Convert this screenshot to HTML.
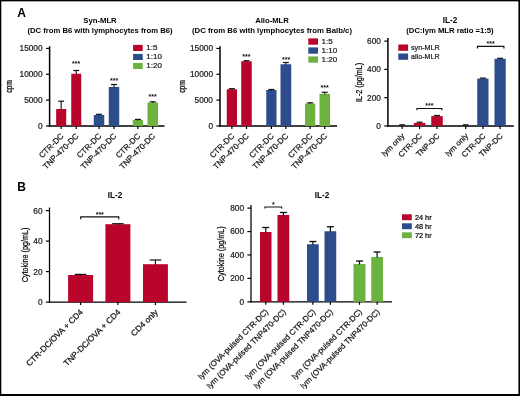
<!DOCTYPE html>
<html><head><meta charset="utf-8"><title>Figure</title>
<style>html,body{margin:0;padding:0;background:#fff}svg{display:block;will-change:transform}text{white-space:pre}</style>
</head><body>
<svg width="520" height="396" viewBox="0 0 520 396" font-family='"Liberation Sans", Arial, Helvetica, sans-serif'>
<rect x="0" y="0" width="520" height="396" fill="#fff"/>
<text x="17.20" y="16.50" font-size="12" text-anchor="start" font-weight="bold" fill="#000">A</text>
<text x="17.20" y="191.00" font-size="12" text-anchor="start" font-weight="bold" fill="#000">B</text>
<text x="100.00" y="22.60" font-size="7.7" text-anchor="middle" font-weight="bold" fill="#000">Syn-MLR</text>
<text x="100.00" y="33.20" font-size="7.7" text-anchor="middle" font-weight="bold" fill="#000">(DC from B6 with lymphocytes from B6)</text>
<line x1="49.60" y1="46.20" x2="49.60" y2="126.75" stroke="#000" stroke-width="1.5"/>
<line x1="46.00" y1="48.45" x2="49.60" y2="48.45" stroke="#000" stroke-width="1.2"/>
<text x="42.60" y="51.35" font-size="8.3" text-anchor="end" stroke="#1a1a1a" stroke-width="0.22" fill="#1a1a1a">15000</text>
<line x1="46.00" y1="74.30" x2="49.60" y2="74.30" stroke="#000" stroke-width="1.2"/>
<text x="42.60" y="77.20" font-size="8.3" text-anchor="end" stroke="#1a1a1a" stroke-width="0.22" fill="#1a1a1a">10000</text>
<line x1="46.00" y1="100.15" x2="49.60" y2="100.15" stroke="#000" stroke-width="1.2"/>
<text x="42.60" y="103.05" font-size="8.3" text-anchor="end" stroke="#1a1a1a" stroke-width="0.22" fill="#1a1a1a">5000</text>
<line x1="46.00" y1="126.00" x2="49.60" y2="126.00" stroke="#000" stroke-width="1.2"/>
<text x="42.60" y="128.90" font-size="8.3" text-anchor="end" stroke="#1a1a1a" stroke-width="0.22" fill="#1a1a1a">0</text>
<line x1="48.85" y1="126.00" x2="164.50" y2="126.00" stroke="#000" stroke-width="1.5"/>
<text transform="translate(12.20 86.40) rotate(-90) scale(0.82 1)" font-size="8.3" text-anchor="middle" stroke="#000" stroke-width="0.22" fill="#000">cpm</text>
<rect x="56.15" y="109.00" width="10.05" height="17.00" fill="#b9052c"/>
<line x1="61.17" y1="109.50" x2="61.17" y2="101.20" stroke="#111" stroke-width="1.1"/>
<line x1="58.17" y1="101.20" x2="64.17" y2="101.20" stroke="#111" stroke-width="1.2000000000000002"/>
<line x1="61.17" y1="126.00" x2="61.17" y2="129.00" stroke="#000" stroke-width="1.2"/>
<text transform="translate(64.17 136.60) rotate(-45)" font-size="8.1" text-anchor="end" stroke="#111" stroke-width="0.22" fill="#111">CTR-DC</text>
<rect x="71.25" y="73.75" width="10.00" height="52.25" fill="#b9052c"/>
<line x1="76.25" y1="74.25" x2="76.25" y2="70.50" stroke="#111" stroke-width="1.1"/>
<line x1="73.25" y1="70.50" x2="79.25" y2="70.50" stroke="#111" stroke-width="1.2000000000000002"/>
<line x1="76.25" y1="126.00" x2="76.25" y2="129.00" stroke="#000" stroke-width="1.2"/>
<text transform="translate(79.25 136.60) rotate(-45)" font-size="8.1" text-anchor="end" stroke="#111" stroke-width="0.22" fill="#111">TNP-470-DC</text>
<rect x="93.75" y="115.00" width="10.50" height="11.00" fill="#2c4c8c"/>
<line x1="99.00" y1="115.50" x2="99.00" y2="114.30" stroke="#111" stroke-width="1.1"/>
<line x1="96.00" y1="114.30" x2="102.00" y2="114.30" stroke="#111" stroke-width="1.2000000000000002"/>
<line x1="99.00" y1="126.00" x2="99.00" y2="129.00" stroke="#000" stroke-width="1.2"/>
<text transform="translate(102.00 136.60) rotate(-45)" font-size="8.1" text-anchor="end" stroke="#111" stroke-width="0.22" fill="#111">CTR-DC</text>
<rect x="108.75" y="87.00" width="10.50" height="39.00" fill="#2c4c8c"/>
<line x1="114.00" y1="87.50" x2="114.00" y2="84.50" stroke="#111" stroke-width="1.1"/>
<line x1="111.00" y1="84.50" x2="117.00" y2="84.50" stroke="#111" stroke-width="1.2000000000000002"/>
<line x1="114.00" y1="126.00" x2="114.00" y2="129.00" stroke="#000" stroke-width="1.2"/>
<text transform="translate(117.00 136.60) rotate(-45)" font-size="8.1" text-anchor="end" stroke="#111" stroke-width="0.22" fill="#111">TNP-470-DC</text>
<rect x="132.75" y="120.00" width="10.25" height="6.00" fill="#6cb23f"/>
<line x1="137.88" y1="120.50" x2="137.88" y2="119.40" stroke="#111" stroke-width="1.1"/>
<line x1="134.88" y1="119.40" x2="140.88" y2="119.40" stroke="#111" stroke-width="1.2000000000000002"/>
<line x1="137.88" y1="126.00" x2="137.88" y2="129.00" stroke="#000" stroke-width="1.2"/>
<text transform="translate(140.88 136.60) rotate(-45)" font-size="8.1" text-anchor="end" stroke="#111" stroke-width="0.22" fill="#111">CTR-DC</text>
<rect x="147.50" y="102.50" width="10.50" height="23.50" fill="#6cb23f"/>
<line x1="152.75" y1="103.00" x2="152.75" y2="101.80" stroke="#111" stroke-width="1.1"/>
<line x1="149.75" y1="101.80" x2="155.75" y2="101.80" stroke="#111" stroke-width="1.2000000000000002"/>
<line x1="152.75" y1="126.00" x2="152.75" y2="129.00" stroke="#000" stroke-width="1.2"/>
<text transform="translate(155.75 136.60) rotate(-45)" font-size="8.1" text-anchor="end" stroke="#111" stroke-width="0.22" fill="#111">TNP-470-DC</text>
<text x="76.20" y="66.20" font-size="7" text-anchor="middle" font-weight="bold" fill="#111">***</text>
<text x="114.20" y="83.30" font-size="7" text-anchor="middle" font-weight="bold" fill="#111">***</text>
<text x="152.60" y="99.30" font-size="7" text-anchor="middle" font-weight="bold" fill="#111">***</text>
<rect x="133.10" y="44.90" width="9.60" height="6.10" fill="#b9052c"/>
<text x="146.30" y="50.30" font-size="8" text-anchor="start" stroke="#1a1a1a" stroke-width="0.22" fill="#1a1a1a">1:5</text>
<rect x="133.10" y="53.90" width="9.60" height="6.10" fill="#2c4c8c"/>
<text x="146.30" y="59.30" font-size="8" text-anchor="start" stroke="#1a1a1a" stroke-width="0.22" fill="#1a1a1a">1:10</text>
<rect x="133.10" y="62.90" width="9.60" height="6.10" fill="#6cb23f"/>
<text x="146.30" y="68.30" font-size="8" text-anchor="start" stroke="#1a1a1a" stroke-width="0.22" fill="#1a1a1a">1:20</text>
<text x="272.00" y="22.60" font-size="7.7" text-anchor="middle" font-weight="bold" fill="#000">Allo-MLR</text>
<text x="272.00" y="33.20" font-size="7.7" text-anchor="middle" font-weight="bold" textLength="160" lengthAdjust="spacingAndGlyphs" fill="#000">(DC from B6 with lymphocytes from Balb/c)</text>
<line x1="220.00" y1="46.20" x2="220.00" y2="126.75" stroke="#000" stroke-width="1.5"/>
<line x1="216.40" y1="48.45" x2="220.00" y2="48.45" stroke="#000" stroke-width="1.2"/>
<text x="213.00" y="51.35" font-size="8.3" text-anchor="end" stroke="#1a1a1a" stroke-width="0.22" fill="#1a1a1a">15000</text>
<line x1="216.40" y1="74.30" x2="220.00" y2="74.30" stroke="#000" stroke-width="1.2"/>
<text x="213.00" y="77.20" font-size="8.3" text-anchor="end" stroke="#1a1a1a" stroke-width="0.22" fill="#1a1a1a">10000</text>
<line x1="216.40" y1="100.15" x2="220.00" y2="100.15" stroke="#000" stroke-width="1.2"/>
<text x="213.00" y="103.05" font-size="8.3" text-anchor="end" stroke="#1a1a1a" stroke-width="0.22" fill="#1a1a1a">5000</text>
<line x1="216.40" y1="126.00" x2="220.00" y2="126.00" stroke="#000" stroke-width="1.2"/>
<text x="213.00" y="128.90" font-size="8.3" text-anchor="end" stroke="#1a1a1a" stroke-width="0.22" fill="#1a1a1a">0</text>
<line x1="219.25" y1="126.00" x2="337.00" y2="126.00" stroke="#000" stroke-width="1.5"/>
<text transform="translate(184.60 86.40) rotate(-90) scale(0.82 1)" font-size="8.3" text-anchor="middle" stroke="#000" stroke-width="0.22" fill="#000">cpm</text>
<rect x="226.75" y="89.25" width="10.25" height="36.75" fill="#b9052c"/>
<line x1="231.88" y1="89.75" x2="231.88" y2="88.70" stroke="#111" stroke-width="1.1"/>
<line x1="228.88" y1="88.70" x2="234.88" y2="88.70" stroke="#111" stroke-width="1.2000000000000002"/>
<line x1="231.88" y1="126.00" x2="231.88" y2="129.00" stroke="#000" stroke-width="1.2"/>
<text transform="translate(234.88 136.60) rotate(-45)" font-size="8.1" text-anchor="end" stroke="#111" stroke-width="0.22" fill="#111">CTR-DC</text>
<rect x="241.25" y="61.25" width="10.50" height="64.75" fill="#b9052c"/>
<line x1="246.50" y1="61.75" x2="246.50" y2="60.70" stroke="#111" stroke-width="1.1"/>
<line x1="243.50" y1="60.70" x2="249.50" y2="60.70" stroke="#111" stroke-width="1.2000000000000002"/>
<line x1="246.50" y1="126.00" x2="246.50" y2="129.00" stroke="#000" stroke-width="1.2"/>
<text transform="translate(249.50 136.60) rotate(-45)" font-size="8.1" text-anchor="end" stroke="#111" stroke-width="0.22" fill="#111">TNP-470-DC</text>
<rect x="266.25" y="90.00" width="10.25" height="36.00" fill="#2c4c8c"/>
<line x1="271.38" y1="90.50" x2="271.38" y2="89.50" stroke="#111" stroke-width="1.1"/>
<line x1="268.38" y1="89.50" x2="274.38" y2="89.50" stroke="#111" stroke-width="1.2000000000000002"/>
<line x1="271.38" y1="126.00" x2="271.38" y2="129.00" stroke="#000" stroke-width="1.2"/>
<text transform="translate(274.38 136.60) rotate(-45)" font-size="8.1" text-anchor="end" stroke="#111" stroke-width="0.22" fill="#111">CTR-DC</text>
<rect x="280.50" y="64.25" width="10.75" height="61.75" fill="#2c4c8c"/>
<line x1="285.88" y1="64.75" x2="285.88" y2="62.50" stroke="#111" stroke-width="1.1"/>
<line x1="282.88" y1="62.50" x2="288.88" y2="62.50" stroke="#111" stroke-width="1.2000000000000002"/>
<line x1="285.88" y1="126.00" x2="285.88" y2="129.00" stroke="#000" stroke-width="1.2"/>
<text transform="translate(288.88 136.60) rotate(-45)" font-size="8.1" text-anchor="end" stroke="#111" stroke-width="0.22" fill="#111">TNP-470-DC</text>
<rect x="305.00" y="103.50" width="10.25" height="22.50" fill="#6cb23f"/>
<line x1="310.12" y1="104.00" x2="310.12" y2="102.80" stroke="#111" stroke-width="1.1"/>
<line x1="307.12" y1="102.80" x2="313.12" y2="102.80" stroke="#111" stroke-width="1.2000000000000002"/>
<line x1="310.12" y1="126.00" x2="310.12" y2="129.00" stroke="#000" stroke-width="1.2"/>
<text transform="translate(313.12 136.60) rotate(-45)" font-size="8.1" text-anchor="end" stroke="#111" stroke-width="0.22" fill="#111">CTR-DC</text>
<rect x="319.50" y="93.90" width="10.50" height="32.10" fill="#6cb23f"/>
<line x1="324.75" y1="94.40" x2="324.75" y2="92.30" stroke="#111" stroke-width="1.1"/>
<line x1="321.75" y1="92.30" x2="327.75" y2="92.30" stroke="#111" stroke-width="1.2000000000000002"/>
<line x1="324.75" y1="126.00" x2="324.75" y2="129.00" stroke="#000" stroke-width="1.2"/>
<text transform="translate(327.75 136.60) rotate(-45)" font-size="8.1" text-anchor="end" stroke="#111" stroke-width="0.22" fill="#111">TNP-470-DC</text>
<text x="246.40" y="58.60" font-size="7" text-anchor="middle" font-weight="bold" fill="#111">***</text>
<text x="286.10" y="62.00" font-size="7" text-anchor="middle" font-weight="bold" fill="#111">***</text>
<text x="324.60" y="90.00" font-size="7" text-anchor="middle" font-weight="bold" fill="#111">***</text>
<rect x="308.30" y="38.40" width="9.70" height="6.30" fill="#b9052c"/>
<text x="321.60" y="44.20" font-size="8" text-anchor="start" stroke="#1a1a1a" stroke-width="0.22" fill="#1a1a1a">1:5</text>
<rect x="308.30" y="47.40" width="9.70" height="6.30" fill="#2c4c8c"/>
<text x="321.60" y="53.20" font-size="8" text-anchor="start" stroke="#1a1a1a" stroke-width="0.22" fill="#1a1a1a">1:10</text>
<rect x="308.30" y="56.40" width="9.70" height="6.30" fill="#6cb23f"/>
<text x="321.60" y="62.20" font-size="8" text-anchor="start" stroke="#1a1a1a" stroke-width="0.22" fill="#1a1a1a">1:20</text>
<text x="450.00" y="22.60" font-size="8.2" text-anchor="middle" font-weight="bold" fill="#000">IL-2</text>
<text x="450.00" y="32.60" font-size="7.7" text-anchor="middle" font-weight="bold" fill="#000">(DC:lym MLR ratio =1:5)</text>
<line x1="387.90" y1="38.10" x2="387.90" y2="126.65" stroke="#000" stroke-width="1.5"/>
<line x1="384.30" y1="41.15" x2="387.90" y2="41.15" stroke="#000" stroke-width="1.2"/>
<text x="380.90" y="44.05" font-size="8.3" text-anchor="end" stroke="#1a1a1a" stroke-width="0.22" fill="#1a1a1a">600</text>
<line x1="384.30" y1="69.40" x2="387.90" y2="69.40" stroke="#000" stroke-width="1.2"/>
<text x="380.90" y="72.30" font-size="8.3" text-anchor="end" stroke="#1a1a1a" stroke-width="0.22" fill="#1a1a1a">400</text>
<line x1="384.30" y1="97.65" x2="387.90" y2="97.65" stroke="#000" stroke-width="1.2"/>
<text x="380.90" y="100.55" font-size="8.3" text-anchor="end" stroke="#1a1a1a" stroke-width="0.22" fill="#1a1a1a">200</text>
<line x1="384.30" y1="125.90" x2="387.90" y2="125.90" stroke="#000" stroke-width="1.2"/>
<text x="380.90" y="128.80" font-size="8.3" text-anchor="end" stroke="#1a1a1a" stroke-width="0.22" fill="#1a1a1a">0</text>
<line x1="387.15" y1="125.90" x2="513.80" y2="125.90" stroke="#000" stroke-width="1.5"/>
<text transform="translate(361.60 82.50) rotate(-90) scale(0.8 1)" font-size="9" text-anchor="middle" stroke="#000" stroke-width="0.22" fill="#000">IL-2 (pg/mL)</text>
<line x1="399.30" y1="124.90" x2="404.90" y2="124.90" stroke="#111" stroke-width="1.4"/>
<line x1="402.10" y1="125.90" x2="402.10" y2="128.90" stroke="#000" stroke-width="1.2"/>
<text transform="translate(405.10 136.50) rotate(-45)" font-size="7.8" text-anchor="end" stroke="#111" stroke-width="0.22" fill="#111">lym only</text>
<rect x="413.80" y="122.90" width="11.60" height="3.00" fill="#b9052c"/>
<line x1="419.60" y1="123.40" x2="419.60" y2="122.20" stroke="#111" stroke-width="1.1"/>
<line x1="416.60" y1="122.20" x2="422.60" y2="122.20" stroke="#111" stroke-width="1.2000000000000002"/>
<line x1="419.60" y1="125.90" x2="419.60" y2="128.90" stroke="#000" stroke-width="1.2"/>
<text transform="translate(422.60 136.50) rotate(-45)" font-size="7.8" text-anchor="end" stroke="#111" stroke-width="0.22" fill="#111">CTR-DC</text>
<rect x="431.25" y="116.10" width="11.50" height="9.80" fill="#b9052c"/>
<line x1="437.00" y1="116.60" x2="437.00" y2="115.50" stroke="#111" stroke-width="1.1"/>
<line x1="434.00" y1="115.50" x2="440.00" y2="115.50" stroke="#111" stroke-width="1.2000000000000002"/>
<line x1="437.00" y1="125.90" x2="437.00" y2="128.90" stroke="#000" stroke-width="1.2"/>
<text transform="translate(440.00 136.50) rotate(-45)" font-size="7.8" text-anchor="end" stroke="#111" stroke-width="0.22" fill="#111">TNP-DC</text>
<line x1="462.90" y1="124.90" x2="468.50" y2="124.90" stroke="#111" stroke-width="1.4"/>
<line x1="465.70" y1="125.90" x2="465.70" y2="128.90" stroke="#000" stroke-width="1.2"/>
<text transform="translate(468.70 136.50) rotate(-45)" font-size="7.8" text-anchor="end" stroke="#111" stroke-width="0.22" fill="#111">lym only</text>
<rect x="477.25" y="78.60" width="11.25" height="47.30" fill="#2c4c8c"/>
<line x1="482.88" y1="79.10" x2="482.88" y2="78.10" stroke="#111" stroke-width="1.1"/>
<line x1="479.88" y1="78.10" x2="485.88" y2="78.10" stroke="#111" stroke-width="1.2000000000000002"/>
<line x1="482.88" y1="125.90" x2="482.88" y2="128.90" stroke="#000" stroke-width="1.2"/>
<text transform="translate(485.88 136.50) rotate(-45)" font-size="7.8" text-anchor="end" stroke="#111" stroke-width="0.22" fill="#111">CTR-DC</text>
<rect x="494.50" y="58.80" width="11.25" height="67.10" fill="#2c4c8c"/>
<line x1="500.12" y1="59.30" x2="500.12" y2="58.30" stroke="#111" stroke-width="1.1"/>
<line x1="497.12" y1="58.30" x2="503.12" y2="58.30" stroke="#111" stroke-width="1.2000000000000002"/>
<line x1="500.12" y1="125.90" x2="500.12" y2="128.90" stroke="#000" stroke-width="1.2"/>
<text transform="translate(503.12 136.50) rotate(-45)" font-size="7.8" text-anchor="end" stroke="#111" stroke-width="0.22" fill="#111">TNP-DC</text>
<path d="M417.00 110.30V108.50H441.80V110.30" fill="none" stroke="#111" stroke-width="1.2"/>
<text x="429.40" y="107.60" font-size="7" text-anchor="middle" font-weight="bold" fill="#111">***</text>
<path d="M477.50 48.40V46.40H503.90V48.40" fill="none" stroke="#111" stroke-width="1.2"/>
<text x="490.70" y="45.90" font-size="7" text-anchor="middle" font-weight="bold" fill="#111">***</text>
<rect x="398.30" y="44.50" width="9.80" height="6.30" fill="#b9052c"/>
<text x="411.00" y="49.80" font-size="8" text-anchor="start" stroke="#1a1a1a" stroke-width="0.22" textLength="28.8" lengthAdjust="spacingAndGlyphs" fill="#1a1a1a">syn-MLR</text>
<rect x="398.30" y="53.50" width="9.80" height="6.30" fill="#2c4c8c"/>
<text x="411.00" y="58.70" font-size="8" text-anchor="start" stroke="#1a1a1a" stroke-width="0.22" textLength="28.8" lengthAdjust="spacingAndGlyphs" fill="#1a1a1a">allo-MLR</text>
<text x="115.00" y="198.40" font-size="8.2" text-anchor="middle" font-weight="bold" fill="#000">IL-2</text>
<line x1="49.50" y1="207.50" x2="49.50" y2="302.73" stroke="#000" stroke-width="1.25"/>
<line x1="45.90" y1="210.60" x2="49.50" y2="210.60" stroke="#000" stroke-width="1.2"/>
<text x="42.50" y="213.50" font-size="8.3" text-anchor="end" stroke="#1a1a1a" stroke-width="0.22" fill="#1a1a1a">60</text>
<line x1="45.90" y1="241.10" x2="49.50" y2="241.10" stroke="#000" stroke-width="1.2"/>
<text x="42.50" y="244.00" font-size="8.3" text-anchor="end" stroke="#1a1a1a" stroke-width="0.22" fill="#1a1a1a">40</text>
<line x1="45.90" y1="271.60" x2="49.50" y2="271.60" stroke="#000" stroke-width="1.2"/>
<text x="42.50" y="274.50" font-size="8.3" text-anchor="end" stroke="#1a1a1a" stroke-width="0.22" fill="#1a1a1a">20</text>
<line x1="45.90" y1="302.10" x2="49.50" y2="302.10" stroke="#000" stroke-width="1.2"/>
<text x="42.50" y="305.00" font-size="8.3" text-anchor="end" stroke="#1a1a1a" stroke-width="0.22" fill="#1a1a1a">0</text>
<line x1="48.88" y1="302.10" x2="186.60" y2="302.10" stroke="#000" stroke-width="1.25"/>
<text transform="translate(27.60 255.00) rotate(-90) scale(0.8 1)" font-size="9" text-anchor="middle" stroke="#000" stroke-width="0.22" fill="#000">Cytokine (pg/mL)</text>
<rect x="68.10" y="275.00" width="25.00" height="27.10" fill="#b9052c"/>
<line x1="80.60" y1="275.50" x2="80.60" y2="274.40" stroke="#111" stroke-width="1.1"/>
<line x1="74.80" y1="274.40" x2="86.40" y2="274.40" stroke="#111" stroke-width="1.2000000000000002"/>
<line x1="80.60" y1="302.10" x2="80.60" y2="305.10" stroke="#000" stroke-width="1.2"/>
<text transform="translate(83.60 312.70) rotate(-45)" font-size="8.3" text-anchor="end" stroke="#111" stroke-width="0.22" fill="#111">CTR-DC/OVA + CD4</text>
<rect x="105.40" y="224.20" width="25.00" height="77.90" fill="#b9052c"/>
<line x1="117.90" y1="224.70" x2="117.90" y2="223.70" stroke="#111" stroke-width="1.1"/>
<line x1="112.10" y1="223.70" x2="123.70" y2="223.70" stroke="#111" stroke-width="1.2000000000000002"/>
<line x1="117.90" y1="302.10" x2="117.90" y2="305.10" stroke="#000" stroke-width="1.2"/>
<text transform="translate(120.90 312.70) rotate(-45)" font-size="8.3" text-anchor="end" stroke="#111" stroke-width="0.22" fill="#111">TNP-DC/OVA + CD4</text>
<rect x="143.00" y="264.20" width="24.90" height="37.90" fill="#b9052c"/>
<line x1="155.45" y1="264.70" x2="155.45" y2="260.00" stroke="#111" stroke-width="1.1"/>
<line x1="149.65" y1="260.00" x2="161.25" y2="260.00" stroke="#111" stroke-width="1.2000000000000002"/>
<line x1="155.45" y1="302.10" x2="155.45" y2="305.10" stroke="#000" stroke-width="1.2"/>
<text transform="translate(158.45 312.70) rotate(-45)" font-size="8.3" text-anchor="end" stroke="#111" stroke-width="0.22" fill="#111">CD4 only</text>
<path d="M80.75 219.30V216.90H118.75V219.30" fill="none" stroke="#111" stroke-width="1.2"/>
<text x="99.75" y="217.00" font-size="7" text-anchor="middle" font-weight="bold" fill="#111">***</text>
<text x="322.00" y="198.40" font-size="8.2" text-anchor="middle" font-weight="bold" fill="#000">IL-2</text>
<line x1="251.00" y1="205.00" x2="251.00" y2="302.43" stroke="#000" stroke-width="1.25"/>
<line x1="247.40" y1="208.12" x2="251.00" y2="208.12" stroke="#000" stroke-width="1.2"/>
<text x="244.00" y="211.02" font-size="8.3" text-anchor="end" stroke="#1a1a1a" stroke-width="0.22" fill="#1a1a1a">800</text>
<line x1="247.40" y1="231.54" x2="251.00" y2="231.54" stroke="#000" stroke-width="1.2"/>
<text x="244.00" y="234.44" font-size="8.3" text-anchor="end" stroke="#1a1a1a" stroke-width="0.22" fill="#1a1a1a">600</text>
<line x1="247.40" y1="254.96" x2="251.00" y2="254.96" stroke="#000" stroke-width="1.2"/>
<text x="244.00" y="257.86" font-size="8.3" text-anchor="end" stroke="#1a1a1a" stroke-width="0.22" fill="#1a1a1a">400</text>
<line x1="247.40" y1="278.38" x2="251.00" y2="278.38" stroke="#000" stroke-width="1.2"/>
<text x="244.00" y="281.28" font-size="8.3" text-anchor="end" stroke="#1a1a1a" stroke-width="0.22" fill="#1a1a1a">200</text>
<line x1="247.40" y1="301.80" x2="251.00" y2="301.80" stroke="#000" stroke-width="1.2"/>
<text x="244.00" y="304.70" font-size="8.3" text-anchor="end" stroke="#1a1a1a" stroke-width="0.22" fill="#1a1a1a">0</text>
<line x1="250.38" y1="301.80" x2="392.00" y2="301.80" stroke="#000" stroke-width="1.25"/>
<text transform="translate(224.30 253.80) rotate(-90) scale(0.8 1)" font-size="9" text-anchor="middle" stroke="#000" stroke-width="0.22" fill="#000">Cytokine (pg/mL)</text>
<rect x="260.00" y="232.00" width="11.50" height="69.80" fill="#b9052c"/>
<line x1="265.75" y1="232.50" x2="265.75" y2="227.50" stroke="#111" stroke-width="1.25"/>
<line x1="262.25" y1="227.50" x2="269.25" y2="227.50" stroke="#111" stroke-width="1.35"/>
<line x1="265.75" y1="301.80" x2="265.75" y2="304.80" stroke="#000" stroke-width="1.2"/>
<text transform="translate(268.75 312.40) rotate(-45)" font-size="8.0" text-anchor="end" stroke="#111" stroke-width="0.22" fill="#111">lym (OVA-pulsed CTR-DC)</text>
<rect x="277.50" y="215.00" width="11.75" height="86.80" fill="#b9052c"/>
<line x1="283.38" y1="215.50" x2="283.38" y2="212.50" stroke="#111" stroke-width="1.25"/>
<line x1="279.88" y1="212.50" x2="286.88" y2="212.50" stroke="#111" stroke-width="1.35"/>
<line x1="283.38" y1="301.80" x2="283.38" y2="304.80" stroke="#000" stroke-width="1.2"/>
<text transform="translate(286.38 312.40) rotate(-45)" font-size="8.0" text-anchor="end" stroke="#111" stroke-width="0.22" fill="#111">lym (OVA-pulsed TNP470-DC)</text>
<rect x="307.00" y="244.25" width="11.75" height="57.55" fill="#2c4c8c"/>
<line x1="312.88" y1="244.75" x2="312.88" y2="241.50" stroke="#111" stroke-width="1.25"/>
<line x1="309.38" y1="241.50" x2="316.38" y2="241.50" stroke="#111" stroke-width="1.35"/>
<line x1="312.88" y1="301.80" x2="312.88" y2="304.80" stroke="#000" stroke-width="1.2"/>
<text transform="translate(315.88 312.40) rotate(-45)" font-size="8.0" text-anchor="end" stroke="#111" stroke-width="0.22" fill="#111">lym (OVA-pulsed CTR-DC)</text>
<rect x="324.50" y="231.25" width="11.75" height="70.55" fill="#2c4c8c"/>
<line x1="330.38" y1="231.75" x2="330.38" y2="226.75" stroke="#111" stroke-width="1.25"/>
<line x1="326.88" y1="226.75" x2="333.88" y2="226.75" stroke="#111" stroke-width="1.35"/>
<line x1="330.38" y1="301.80" x2="330.38" y2="304.80" stroke="#000" stroke-width="1.2"/>
<text transform="translate(333.38 312.40) rotate(-45)" font-size="8.0" text-anchor="end" stroke="#111" stroke-width="0.22" fill="#111">lym (OVA-pulsed TNP470-DC)</text>
<rect x="353.50" y="264.00" width="12.00" height="37.80" fill="#6cb23f"/>
<line x1="359.50" y1="264.50" x2="359.50" y2="261.00" stroke="#111" stroke-width="1.25"/>
<line x1="356.00" y1="261.00" x2="363.00" y2="261.00" stroke="#111" stroke-width="1.35"/>
<line x1="359.50" y1="301.80" x2="359.50" y2="304.80" stroke="#000" stroke-width="1.2"/>
<text transform="translate(362.50 312.40) rotate(-45)" font-size="8.0" text-anchor="end" stroke="#111" stroke-width="0.22" fill="#111">lym (OVA-pulsed CTR-DC)</text>
<rect x="371.25" y="257.00" width="11.75" height="44.80" fill="#6cb23f"/>
<line x1="377.12" y1="257.50" x2="377.12" y2="252.00" stroke="#111" stroke-width="1.25"/>
<line x1="373.62" y1="252.00" x2="380.62" y2="252.00" stroke="#111" stroke-width="1.35"/>
<line x1="377.12" y1="301.80" x2="377.12" y2="304.80" stroke="#000" stroke-width="1.2"/>
<text transform="translate(380.12 312.40) rotate(-45)" font-size="8.0" text-anchor="end" stroke="#111" stroke-width="0.22" fill="#111">lym (OVA-pulsed TNP470-DC)</text>
<path d="M265.00 208.60V207.00H281.60V208.60" fill="none" stroke="#111" stroke-width="1.2"/>
<text x="273.30" y="206.60" font-size="7" text-anchor="middle" font-weight="bold" fill="#111">*</text>
<rect x="402.00" y="214.30" width="9.80" height="5.90" fill="#b9052c"/>
<text x="415.00" y="220.00" font-size="8" text-anchor="start" stroke="#000" stroke-width="0.22" textLength="16.6" lengthAdjust="spacingAndGlyphs" fill="#000">24 hr</text>
<rect x="402.00" y="223.30" width="9.80" height="5.90" fill="#2c4c8c"/>
<text x="415.00" y="229.00" font-size="8" text-anchor="start" stroke="#000" stroke-width="0.22" textLength="16.6" lengthAdjust="spacingAndGlyphs" fill="#000">48 hr</text>
<rect x="402.00" y="232.30" width="9.80" height="5.90" fill="#6cb23f"/>
<text x="415.00" y="238.00" font-size="8" text-anchor="start" stroke="#000" stroke-width="0.22" textLength="16.6" lengthAdjust="spacingAndGlyphs" fill="#000">72 hr</text>
<rect x="0" y="0" width="520" height="1.35" fill="#000"/>
<rect x="0" y="0" width="1.3" height="396" fill="#000"/>
<rect x="518.4" y="0" width="1.6" height="396" fill="#000"/>
<rect x="0" y="394.0" width="520" height="2.0" fill="#000"/>
</svg>
</body></html>
